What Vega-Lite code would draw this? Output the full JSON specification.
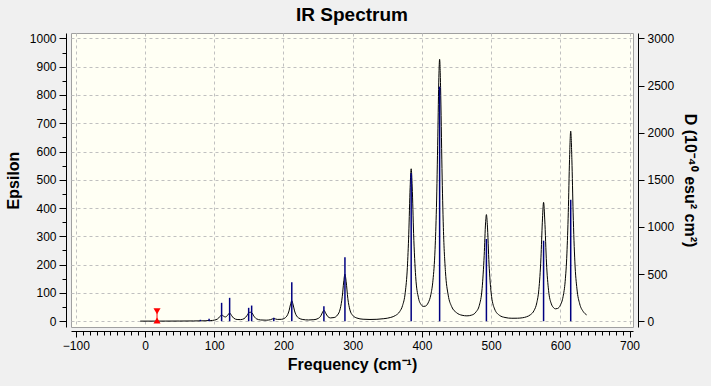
{
  "$schema": "https://vega.github.io/schema/vega-lite/v6.json",
  "width": 562,
  "height": 294,
  "autosize": {"type": "none"},
  "padding": {"left": 71, "top": 33, "right": 78, "bottom": 59},
  "background": "#f0f0f0",
  "config": {
    "view": {"fill": "#fffff4", "stroke": "#a0a0a0", "strokeWidth": 1},
    "font": "Liberation Sans",
    "axis": {
      "domainColor": "#000000",
      "tickColor": "#000000",
      "labelColor": "#000000",
      "titleColor": "#000000",
      "labelFont": "Liberation Sans",
      "titleFont": "Liberation Sans",
      "labelFontSize": 12,
      "titleFontSize": 16,
      "titleFontWeight": "bold",
      "labelFlush": false,
      "labelOverlap": false,
      "format": "d",
      "gridColor": "#c0c0c0",
      "gridDash": [3, 3],
      "gridWidth": 1
    }
  },
  "title": {"text": "IR Spectrum", "fontSize": 19, "fontWeight": "bold", "font": "Liberation Sans", "color": "#000000", "offset": 7, "anchor": "middle"},
  "datasets": {
    "spectrum": [
      {"freq": -7, "eps": 0.3}, {"freq": 10, "eps": 0.3}, {"freq": 30, "eps": 0.4}, {"freq": 50, "eps": 0.6},
      {"freq": 70, "eps": 0.9}, {"freq": 78, "eps": 1.2}, {"freq": 80, "eps": 1.8}, {"freq": 82, "eps": 1.3},
      {"freq": 88, "eps": 1.6}, {"freq": 91, "eps": 2.3}, {"freq": 93, "eps": 2.7}, {"freq": 95, "eps": 2.4},
      {"freq": 100, "eps": 3.8}, {"freq": 105, "eps": 8.3}, {"freq": 108, "eps": 15.9}, {"freq": 110.6, "eps": 22.3},
      {"freq": 113, "eps": 18.4}, {"freq": 116, "eps": 14.9}, {"freq": 119, "eps": 20.0}, {"freq": 122.2, "eps": 29.1},
      {"freq": 125, "eps": 20.1}, {"freq": 128, "eps": 10.9}, {"freq": 133, "eps": 6.0}, {"freq": 138, "eps": 5.6},
      {"freq": 143, "eps": 8.9}, {"freq": 147, "eps": 19.2}, {"freq": 149.7, "eps": 29.2}, {"freq": 152, "eps": 31.7},
      {"freq": 154, "eps": 30.8}, {"freq": 157, "eps": 18.9}, {"freq": 161, "eps": 8.3}, {"freq": 167, "eps": 4.4},
      {"freq": 175, "eps": 3.6}, {"freq": 181, "eps": 5.2}, {"freq": 186, "eps": 9.4}, {"freq": 191, "eps": 6.3},
      {"freq": 197, "eps": 6.6}, {"freq": 202, "eps": 11.1}, {"freq": 206, "eps": 23.2}, {"freq": 208, "eps": 36.4},
      {"freq": 210, "eps": 57.7}, {"freq": 212, "eps": 72}, {"freq": 214, "eps": 57.6}, {"freq": 216, "eps": 36.3},
      {"freq": 218, "eps": 23}, {"freq": 222, "eps": 11.3}, {"freq": 228, "eps": 6.0}, {"freq": 236, "eps": 4.4},
      {"freq": 244, "eps": 5.4}, {"freq": 250, "eps": 9.5}, {"freq": 254, "eps": 19.1}, {"freq": 256.5, "eps": 32.1},
      {"freq": 258.4, "eps": 38.8}, {"freq": 261, "eps": 28.5}, {"freq": 264, "eps": 16.5}, {"freq": 268, "eps": 11.6},
      {"freq": 273, "eps": 12.9}, {"freq": 278, "eps": 21.8}, {"freq": 282, "eps": 43.9}, {"freq": 285, "eps": 88.1},
      {"freq": 287, "eps": 138.5}, {"freq": 288.8, "eps": 166.3}, {"freq": 290.5, "eps": 141}, {"freq": 293, "eps": 79.6},
      {"freq": 296, "eps": 39.9}, {"freq": 300, "eps": 20.9}, {"freq": 306, "eps": 11.2}, {"freq": 315, "eps": 7.0},
      {"freq": 325, "eps": 6.1}, {"freq": 335, "eps": 6.7}, {"freq": 345, "eps": 8.9}, {"freq": 355, "eps": 13.4},
      {"freq": 362, "eps": 20.5}, {"freq": 368, "eps": 34.3}, {"freq": 372, "eps": 54.9}, {"freq": 376, "eps": 102.5},
      {"freq": 379, "eps": 190.5}, {"freq": 381, "eps": 307.5}, {"freq": 383, "eps": 472.7}, {"freq": 384.5, "eps": 538.9},
      {"freq": 386, "eps": 474.6}, {"freq": 388, "eps": 310.8}, {"freq": 391, "eps": 158}, {"freq": 395, "eps": 83},
      {"freq": 399, "eps": 58.1}, {"freq": 402, "eps": 52.3}, {"freq": 405, "eps": 53.2}, {"freq": 409, "eps": 64.6},
      {"freq": 413, "eps": 94.8}, {"freq": 416, "eps": 145}, {"freq": 419, "eps": 254}, {"freq": 421, "eps": 402},
      {"freq": 423, "eps": 654}, {"freq": 424.5, "eps": 862}, {"freq": 425.6, "eps": 926}, {"freq": 427, "eps": 826},
      {"freq": 429, "eps": 540}, {"freq": 431, "eps": 332}, {"freq": 434, "eps": 176}, {"freq": 438, "eps": 92.3},
      {"freq": 443, "eps": 51.6}, {"freq": 450, "eps": 30.2}, {"freq": 458, "eps": 21}, {"freq": 465, "eps": 18.9},
      {"freq": 472, "eps": 21.7}, {"freq": 478, "eps": 32.2}, {"freq": 483, "eps": 56.5}, {"freq": 487, "eps": 116},
      {"freq": 490, "eps": 233}, {"freq": 492, "eps": 347.4}, {"freq": 493.2, "eps": 377}, {"freq": 494.5, "eps": 343},
      {"freq": 497, "eps": 202}, {"freq": 500, "eps": 100.8}, {"freq": 505, "eps": 43.4}, {"freq": 512, "eps": 20.9},
      {"freq": 520, "eps": 13.2}, {"freq": 530, "eps": 10.4}, {"freq": 538, "eps": 10.6}, {"freq": 545, "eps": 12.0},
      {"freq": 551, "eps": 15.5}, {"freq": 557, "eps": 23.2}, {"freq": 562, "eps": 37.5}, {"freq": 566, "eps": 65},
      {"freq": 569, "eps": 112.5}, {"freq": 572, "eps": 224}, {"freq": 574, "eps": 350}, {"freq": 575.8, "eps": 420.4},
      {"freq": 577.5, "eps": 358}, {"freq": 580, "eps": 206}, {"freq": 583, "eps": 109}, {"freq": 587, "eps": 61.3},
      {"freq": 590, "eps": 48.3}, {"freq": 593, "eps": 43.7}, {"freq": 596, "eps": 45}, {"freq": 600, "eps": 56.4},
      {"freq": 604, "eps": 87.2}, {"freq": 607, "eps": 141}, {"freq": 609.5, "eps": 238}, {"freq": 611.5, "eps": 384.4},
      {"freq": 613.3, "eps": 571.5}, {"freq": 615, "eps": 672}, {"freq": 616.7, "eps": 570.7}, {"freq": 618.5, "eps": 383},
      {"freq": 621, "eps": 209.8}, {"freq": 624, "eps": 114.2}, {"freq": 628, "eps": 61.3}, {"freq": 633, "eps": 34.5},
      {"freq": 638, "eps": 22.3}
    ],
    "sticks": [
      {"freq": 80, "D": 15}, {"freq": 92.5, "D": 25}, {"freq": 110.6, "D": 195}, {"freq": 122.2, "D": 248},
      {"freq": 149.7, "D": 142}, {"freq": 154, "D": 166}, {"freq": 186, "D": 36}, {"freq": 212, "D": 413},
      {"freq": 258.4, "D": 159}, {"freq": 288.8, "D": 678}, {"freq": 384.5, "D": 1570}, {"freq": 425.6, "D": 2488},
      {"freq": 493.2, "D": 872}, {"freq": 575.8, "D": 854}, {"freq": 615, "D": 1288}
    ],
    "marker": [
      {"freq": 17.3, "eps": 35, "part": "top"},
      {"freq": 17.3, "eps": 2.5, "part": "bottom"}
    ]
  },
  "layer": [
    {
      "data": {"name": "spectrum"},
      "mark": {"type": "line", "color": "#000000", "strokeWidth": 1, "interpolate": "monotone"},
      "encoding": {
        "x": {
          "field": "freq", "type": "quantitative",
          "scale": {"domain": [-107, 705], "nice": false, "zero": false},
          "axis": {
            "orient": "bottom", "offset": 4, "values": [-100, 0, 100, 200, 300, 400, 500, 600, 700],
            "tickSize": 6, "labelPadding": 3, "grid": true,
            "title": "Frequency (cm⁻¹)", "titlePadding": 5
          }
        },
        "y": {
          "field": "eps", "type": "quantitative",
          "scale": {"domain": [-20.5, 1019], "nice": false, "zero": false},
          "axis": {
            "orient": "left", "offset": 5, "values": [0, 100, 200, 300, 400, 500, 600, 700, 800, 900, 1000],
            "tickSize": 7, "labelPadding": 3, "grid": true,
            "title": "Epsilon", "titlePadding": 8
          }
        }
      }
    },
    {
      "data": {"name": "sticks"},
      "mark": {"type": "rule", "color": "#000080", "strokeWidth": 1.5},
      "encoding": {
        "x": {
          "field": "freq", "type": "quantitative",
          "axis": {
            "orient": "bottom", "offset": 4,
            "values": [-100, -90, -80, -70, -60, -50, -40, -30, -20, -10, 0, 10, 20, 30, 40, 50, 60, 70, 80, 90, 100, 110, 120, 130, 140, 150, 160, 170, 180, 190, 200, 210, 220, 230, 240, 250, 260, 270, 280, 290, 300, 310, 320, 330, 340, 350, 360, 370, 380, 390, 400, 410, 420, 430, 440, 450, 460, 470, 480, 490, 500, 510, 520, 530, 540, 550, 560, 570, 580, 590, 600, 610, 620, 630, 640, 650, 660, 670, 680, 690, 700],
            "tickSize": 4, "labels": false, "domain": false, "grid": false, "title": null
          }
        },
        "y": {
          "field": "D", "type": "quantitative",
          "scale": {"domain": [-61.5, 3057], "nice": false, "zero": false},
          "axis": {
            "orient": "right", "offset": 5, "values": [0, 500, 1000, 1500, 2000, 2500, 3000],
            "tickSize": 6, "labelPadding": 3, "grid": false,
            "title": "D (10⁻⁴⁰ esu² cm²)", "titlePadding": 8
          }
        },
        "y2": {"datum": 0}
      }
    },
    {
      "data": {"name": "marker"},
      "mark": {"type": "point", "filled": true, "color": "#ff0000", "size": 50, "opacity": 1},
      "encoding": {
        "x": {"field": "freq", "type": "quantitative", "axis": null},
        "y": {
          "field": "eps", "type": "quantitative",
          "scale": {"domain": [-20.5, 1019], "nice": false, "zero": false},
          "axis": {
            "orient": "left", "offset": 5,
            "values": [0, 50, 100, 150, 200, 250, 300, 350, 400, 450, 500, 550, 600, 650, 700, 750, 800, 850, 900, 950, 1000],
            "tickSize": 4, "labels": false, "domain": false, "grid": false, "title": null
          }
        },
        "shape": {
          "field": "part", "type": "nominal",
          "scale": {"domain": ["top", "bottom"], "range": ["triangle-down", "triangle-up"]},
          "legend": null
        }
      }
    },
    {
      "data": {"name": "marker"},
      "mark": {"type": "rule", "color": "#ff0000", "strokeWidth": 1},
      "encoding": {
        "x": {"field": "freq", "type": "quantitative", "axis": null},
        "y": {"aggregate": "max", "field": "eps", "type": "quantitative", "scale": {"domain": [-20.5, 1019], "nice": false, "zero": false}, "axis": null},
        "y2": {"aggregate": "min", "field": "eps"}
      }
    }
  ],
  "resolve": {"scale": {"y": "independent"}, "axis": {"x": "independent"}}
}
